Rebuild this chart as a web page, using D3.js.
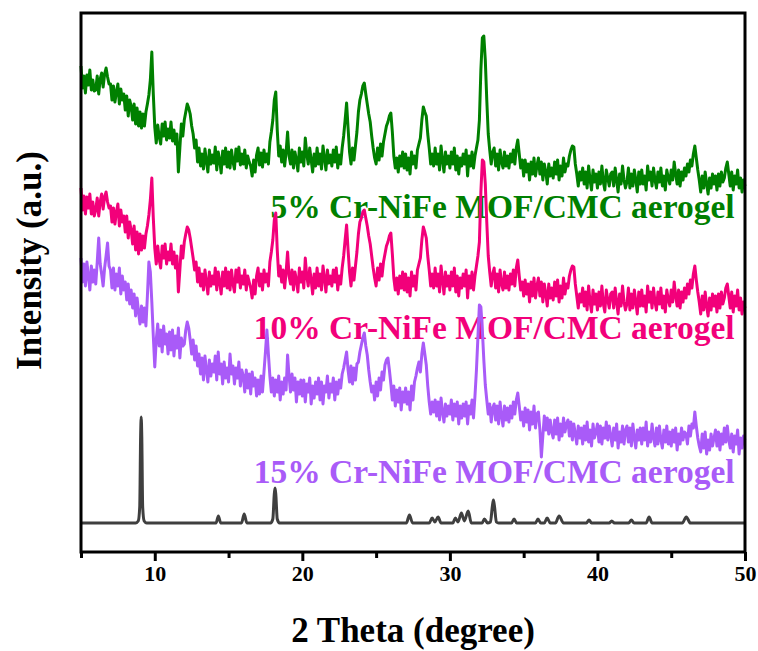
<!DOCTYPE html>
<html>
<head>
<meta charset="utf-8">
<script src="https://cdn.jsdelivr.net/npm/d3@7"></script>
<style>
  html, body { margin: 0; padding: 0; background: #fff; }
  svg { display: block; }
  text { font-family: "Liberation Serif", "Times New Roman", serif; font-weight: bold; }
</style>
</head>
<body>
<svg id="chart" width="758" height="651"></svg>
<script>
// 2-theta sampling for the measured patterns (degrees)
const thetaStart = 5, thetaStep = 0.1, thetaCount = 451;
const twoTheta = d3.range(thetaCount).map(i => +(thetaStart + i * thetaStep).toFixed(1));

// Measured intensities (a.u., stacked with vertical offsets), ten points per degree
const cr5 = [
  486,464,476,459,477,467,482,462,472,461, 462,476,458,473,479,465,478,484,475,468,
  468,452,466,450,460,468,448,463,452,458, 442,456,436,452,446,432,448,428,444,426,
  440,424,438,426,440,448,457,472,500,458, 425,409,427,415,408,428,416,430,412,423,
  414,430,411,422,408,418,380,404,428,416, 432,440,448,444,438,426,418,404,412,390,
  404,386,398,383,403,391,380,402,388,397, 389,405,382,400,392,379,401,388,404,385,
  400,384,402,390,383,403,391,405,387,398, 388,402,384,396,390,386,376,392,380,397,
  404,387,399,385,402,390,398,388,410,420, 432,452,460,422,396,406,390,402,386,400,
  420,396,388,402,384,400,392,381,404,390, 400,386,414,398,388,404,392,380,398,386,
  404,388,398,383,406,394,382,402,389,397, 386,402,390,405,384,397,388,404,416,432,
  449,424,400,388,404,392,406,420,440,452, 458,466,469,458,448,438,430,416,404,394,
  388,404,392,408,396,410,418,426,430,436, 439,420,396,384,394,380,396,386,400,384,
  398,382,394,378,400,388,396,384,402,408, 414,432,445,440,436,418,404,388,398,386,
  404,388,398,382,406,392,380,400,388,396, 384,400,388,404,382,396,378,394,386,398,
  388,402,376,396,386,400,384,396,404,412, 432,482,514,516,492,452,418,402,388,400,
  404,386,398,382,402,390,384,400,386,396, 384,398,390,402,388,404,412,398,384,392,
  376,392,380,388,372,390,378,394,376,386, 394,378,390,372,388,380,368,388,376,384,
  374,390,378,392,372,386,376,394,380,388, 386,396,402,406,405,388,378,366,380,372,
  384,368,380,364,386,372,362,382,370,378, 364,380,368,386,370,362,382,374,366,378,
  380,366,384,372,360,378,368,386,372,364, 370,384,364,378,366,382,372,360,380,368,
  382,368,376,362,386,372,380,366,384,372, 364,380,370,384,366,376,362,382,374,368,
  382,372,390,378,368,382,366,380,372,384, 376,388,380,392,386,398,406,394,382,372,
  360,376,364,380,368,358,374,364,378,368, 376,362,378,366,380,370,374,384,390,378,
  366,380,362,376,368,382,364,374,360,372, 366
];
const cr10 = [
  364,342,356,338,355,344,358,338,350,336, 342,354,336,350,358,343,355,360,350,344,
  346,330,344,328,340,348,326,342,330,336, 320,336,314,330,322,308,326,302,320,298,
  318,302,316,304,318,326,337,352,374,334, 304,288,306,292,284,306,294,308,288,300,
  292,308,288,300,284,296,260,282,306,294, 310,318,325,322,314,304,294,282,290,270,
  284,266,278,262,282,270,258,280,266,276, 268,284,262,280,270,258,280,266,284,264,
  280,262,282,268,260,282,270,284,264,276, 268,282,262,276,270,264,254,272,258,276,
  284,266,278,262,282,270,278,266,290,300, 312,332,339,302,276,286,270,282,264,280,
  300,276,268,282,262,280,272,260,284,270, 280,264,294,276,266,284,272,258,278,264,
  284,266,278,262,286,274,260,282,268,276, 266,282,270,284,262,276,268,284,296,312,
  327,302,280,266,284,272,286,300,318,330, 334,340,342,334,326,316,308,296,284,274,
  266,284,272,288,276,290,298,306,310,316, 319,298,274,262,274,258,276,264,280,262,
  278,260,274,256,280,266,276,262,282,288, 294,312,325,320,314,296,282,266,278,264,
  284,266,278,260,286,272,258,280,266,276, 262,280,266,284,260,276,256,274,264,278,
  266,282,254,276,264,280,262,276,286,296, 310,360,392,390,368,330,296,280,266,278,
  284,264,278,260,282,268,262,280,264,276, 262,278,268,282,266,284,292,276,262,270,
  256,272,258,268,250,270,256,274,254,266, 274,256,270,250,268,258,246,268,254,264,
  252,270,256,272,250,266,254,274,258,268, 264,276,282,286,285,268,256,244,258,250,
  264,246,260,242,266,250,240,262,248,258, 242,260,246,266,248,240,262,252,244,258,
  260,244,264,250,238,258,246,266,250,242, 248,264,242,258,244,262,250,238,260,246,
  262,246,256,240,266,250,260,244,264,250, 242,260,248,264,244,256,240,262,252,246,
  262,250,270,256,246,262,244,260,250,264, 254,268,258,272,264,278,286,272,260,250,
  238,256,242,260,246,236,254,242,258,246, 256,240,258,244,260,248,254,264,268,256,
  244,260,240,256,246,262,242,254,238,250, 244
];
const cr15 = [
  294,270,288,266,290,276,262,286,270,282, 268,290,314,288,278,266,284,296,309,286,
  282,264,284,262,278,266,284,258,276,262, 270,252,268,248,262,244,258,236,254,240,
  228,246,230,244,226,256,290,280,250,216, 185,212,228,206,222,200,226,208,218,198,
  220,202,222,196,216,204,224,194,214,206, 208,222,230,224,212,198,212,192,206,186,
  198,178,194,172,196,182,170,192,176,188, 180,196,172,200,178,188,168,190,174,184,
  170,198,178,186,168,184,174,190,166,182, 176,160,182,164,178,158,180,166,174,156,
  172,158,176,160,180,200,222,198,176,160, 174,156,172,160,176,152,170,158,174,162,
  197,176,160,178,162,174,150,170,158,172, 156,172,150,168,160,174,148,166,154,170,
  158,174,152,170,148,166,160,176,154,168, 160,174,152,170,158,172,164,178,184,192,
  200,182,170,186,168,184,172,188,190,200, 207,214,219,206,197,182,170,160,166,152,
  170,156,174,162,180,172,187,192,194,182, 168,152,166,146,162,150,164,142,160,150,
  164,148,160,142,166,152,170,176,184,190, 180,198,209,198,187,166,150,138,150,140,
  152,136,150,132,154,140,130,148,136,146, 138,152,132,148,136,150,128,146,134,148,
  136,150,128,146,138,152,134,156,182,215, 247,245,222,192,167,152,138,148,130,144,
  148,132,146,128,150,136,126,146,132,144, 130,146,134,150,138,152,159,146,132,140,
  126,144,130,142,122,140,128,146,124,138, 140,122,95,116,136,122,134,118,132,120,
  114,132,118,134,112,128,116,134,120,128, 132,116,130,112,128,118,108,126,114,124,
  108,126,112,130,110,122,106,128,114,120, 128,110,126,108,124,114,130,112,126,116,
  106,124,112,128,104,120,110,126,108,122, 126,110,124,106,128,114,104,122,112,124,
  108,124,112,130,106,120,110,128,114,106, 124,108,126,112,104,122,110,126,108,120,
  106,122,110,124,102,118,108,124,112,120, 118,108,126,116,128,124,140,126,114,106,
  100,118,104,120,98,112,102,118,106,114, 122,106,120,102,118,108,124,110,126,112,
  104,118,100,116,108,122,98,114,104,116, 112
];

// Simulated pattern: [2θ, intensity] vertices
const simulated = [
  [5,29],[8.7,29],[8.88,31],[8.98,45],[9.04,115],[9.08,135],[9.12,115],[9.18,45],[9.28,31],[9.45,29],
  [14.15,29],[14.31,36],[14.47,29],
  [15.88,29],[16.06,38],[16.24,29],
  [17.85,29],[18.0,33],[18.1,58],[18.15,64],[18.2,58],[18.3,33],[18.45,29],
  [27.05,29],[27.26,37],[27.47,29],
  [28.6,29],[28.8,34],[28.98,30],[29.2,35],[29.4,29],
  [30.2,29],[30.37,34],[30.55,30],[30.78,39],[30.98,31],[31.24,41],[31.45,29],
  [32.18,29],[32.34,33],[32.55,29],[32.75,30],[32.88,46],[32.95,52],[33.02,46],[33.15,30],[33.3,29],
  [34.18,29],[34.35,33],[34.52,29],
  [35.8,29],[35.97,33],[36.15,29],[36.4,29],[36.59,34],[36.8,29],
  [37.15,29],[37.4,36],[37.7,29],
  [39.25,29],[39.43,32],[39.6,29],
  [40.8,29],[40.97,31],[41.15,29],
  [42.12,29],[42.3,32],[42.48,29],
  [43.3,29],[43.5,35],[43.7,29],
  [45.75,29],[46.02,35],[46.3,29],
  [50,29]
];

const seriesNames = ["5% Cr-NiFe MOF/CMC aerogel", "10% Cr-NiFe MOF/CMC aerogel", "15% Cr-NiFe MOF/CMC aerogel"];
const seriesColors = ["#008000", "#f2007a", "#a95bf8"];
const labelIntensity = [334, 213, 69];   // label baselines in intensity units
const simulatedColor = "#3f3f3f";

const xMajorTicks = [10, 20, 30, 40, 50];
const xMinorTicks = [5, 15, 25, 35, 45];

const margin = { left: 81, right: 13, top: 13, bottom: 99 };
const W = 758, H = 651;
const svg = d3.select("#chart");

const x = d3.scaleLinear().domain([5, 50]).range([margin.left, W - margin.right]);
const y = d3.scaleLinear().domain([0, 539]).range([H - margin.bottom, margin.top]);

// series labels (drawn beneath the traces)
seriesNames.forEach((name, i) => {
  svg.append("text")
    .attr("x", x(49.3))
    .attr("y", y(labelIntensity[i]))
    .attr("text-anchor", "end")
    .attr("font-size", 33.5)
    .attr("fill", seriesColors[i])
    .text(name);
});

const line = d3.line().x(d => x(d[0])).y(d => y(d[1]));

[cr5, cr10, cr15].forEach((vals, i) => {
  const pts = twoTheta.map((t, k) => [t, vals[k]]);
  svg.append("path")
    .datum(pts)
    .attr("fill", "none")
    .attr("stroke", seriesColors[i])
    .attr("stroke-width", 3)
    .attr("stroke-linejoin", "round")
    .attr("d", line);
});

svg.append("path")
  .datum(simulated)
  .attr("fill", "none")
  .attr("stroke", simulatedColor)
  .attr("stroke-width", 3)
  .attr("stroke-linejoin", "round")
  .attr("d", d3.line().x(d => x(d[0])).y(d => y(d[1])).curve(d3.curveMonotoneX));

// frame
svg.append("rect")
  .attr("x", x(5)).attr("y", y(539))
  .attr("width", x(50) - x(5)).attr("height", y(0) - y(539))
  .attr("fill", "none").attr("stroke", "#000").attr("stroke-width", 3);

// bottom axis: major ticks with labels, minor ticks without
const gMajor = svg.append("g").attr("transform", `translate(0,${y(0)})`)
  .call(d3.axisBottom(x).tickValues(xMajorTicks).tickSize(9).tickPadding(4).tickFormat(d3.format("d")));
gMajor.select(".domain").remove();
gMajor.selectAll("line").attr("stroke", "#000").attr("stroke-width", 3);
gMajor.selectAll("text").attr("font-size", 22).attr("fill", "#000")
  .style("font-family", "'Liberation Serif', 'Times New Roman', serif").style("font-weight", "bold");

const gMinor = svg.append("g").attr("transform", `translate(0,${y(0)})`)
  .call(d3.axisBottom(x).tickValues(xMinorTicks).tickSize(6).tickFormat(""));
gMinor.select(".domain").remove();
gMinor.selectAll("line").attr("stroke", "#000").attr("stroke-width", 3);

// axis titles
svg.append("text")
  .attr("x", (x(5) + x(50)) / 2).attr("y", 642)
  .attr("text-anchor", "middle").attr("font-size", 35).attr("fill", "#000")
  .text("2 Theta (degree)");

svg.append("text")
  .attr("transform", `translate(41,${(y(0) + y(539)) / 2 - 22}) rotate(-90)`)
  .attr("text-anchor", "middle").attr("font-size", 35).attr("fill", "#000")
  .text("Intensity (a.u.)");
</script>
</body>
</html>
